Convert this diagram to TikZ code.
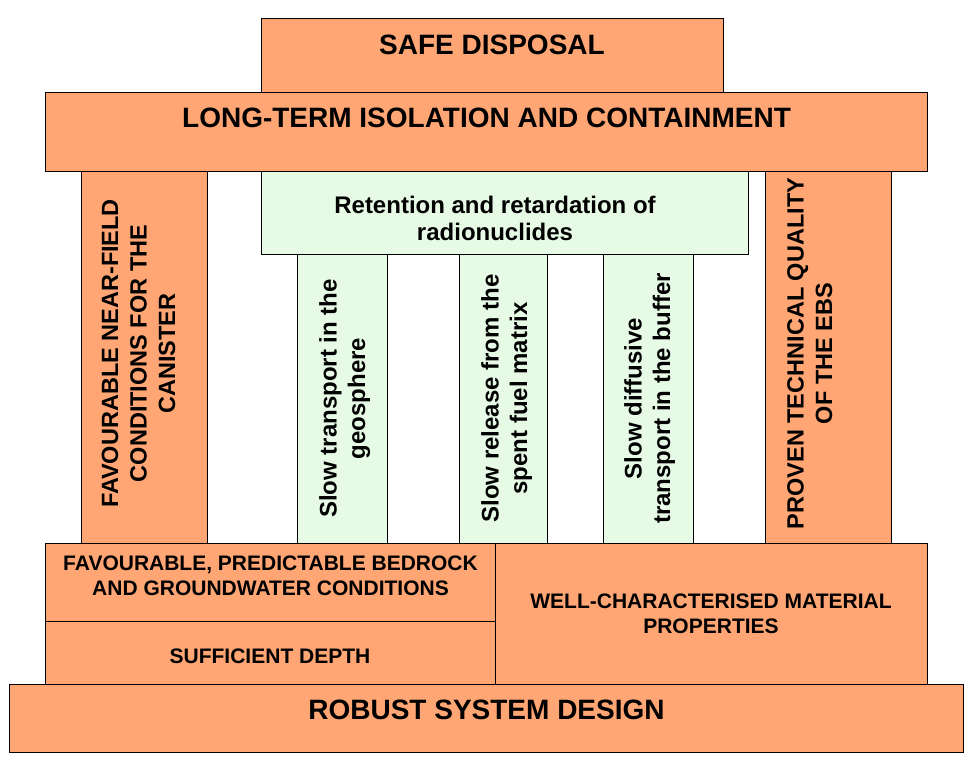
\documentclass[tikz,border=0pt]{standalone}
\usepackage{fontspec}
\setmainfont{Liberation Sans}
\definecolor{orangebox}{RGB}{255,166,116}
\definecolor{greenbox}{RGB}{230,250,230}
\begin{document}
\begin{tikzpicture}[x=1pt,y=-1pt,
  box/.style={draw=black, line width=1pt, rectangle, inner sep=0pt, outer sep=0pt, anchor=north west},
  obox/.style={box, fill=orangebox},
  gbox/.style={box, fill=greenbox},
  txt/.style={anchor=base, inner sep=0pt, align=center, font=\bfseries},
  bigtxt/.style={txt, font=\fontsize{28}{32}\selectfont\bfseries},
  coltxt/.style={txt, rotate=90, font=\fontsize{23.5}{28.5}\selectfont\bfseries},
  gtxt/.style={txt, rotate=90, font=\fontsize{24}{28.5}\selectfont\bfseries},
  smalltxt/.style={txt, font=\fontsize{21}{24.7}\selectfont\bfseries}
]
\useasboundingbox (0,0) rectangle (973,760);
% boxes
\node[obox, minimum width=462pt, minimum height=73pt] (safe) at (261,19) {};
\node[obox, minimum width=882pt, minimum height=79pt] (long) at (45,92) {};
\node[obox, minimum width=126pt, minimum height=372pt] (leftcol) at (81,171) {};
\node[gbox, minimum width=487pt, minimum height=83pt] (ret) at (261,171) {};
\node[gbox, minimum width=90pt, minimum height=289pt] (g1) at (297,254) {};
\node[gbox, minimum width=88pt, minimum height=289pt] (g2) at (459,254) {};
\node[gbox, minimum width=90pt, minimum height=289pt] (g3) at (603,254) {};
\node[obox, minimum width=126pt, minimum height=372pt] (rightcol) at (765,171) {};
\node[obox, minimum width=450pt, minimum height=78pt] (bed) at (45,543) {};
\node[obox, minimum width=450pt, minimum height=63pt] (depth) at (45,621) {};
\node[obox, minimum width=432pt, minimum height=141pt] (mat) at (495,543) {};
\node[obox, minimum width=954pt, minimum height=68pt] (robust) at (9,684) {};
% texts (base anchor = baseline of the last line)
\node[bigtxt] (safeT) at (492,55) {SAFE DISPOSAL};
\node[bigtxt] (longT) at (486.5,127) {LONG-TERM ISOLATION AND CONTAINMENT};
\node[bigtxt] (robustT) at (486.5,719) {ROBUST SYSTEM DESIGN};
\node[txt, font=\fontsize{24}{27.5}\selectfont\bfseries] (retT) at (495,240.5) {Retention and retardation of\\radionuclides};
\node[coltxt] (leftT) at (175,353.5) {FAVOURABLE NEAR-FIELD\\CONDITIONS FOR THE\\CANISTER};
\node[coltxt] (rightT) at (832,353.5) {PROVEN TECHNICAL QUALITY\\OF THE EBS};
\node[gtxt] (g1T) at (365,398.5) {Slow transport in the\\geosphere};
\node[gtxt] (g2T) at (527,398.5) {Slow release from the\\spent fuel matrix};
\node[gtxt] (g3T) at (670,398.5) {Slow diffusive\\transport in the buffer};
\node[smalltxt] (bedT) at (270.5,595.5) {FAVOURABLE, PREDICTABLE BEDROCK\\AND GROUNDWATER CONDITIONS};
\node[smalltxt] (depthT) at (270,663) {SUFFICIENT DEPTH};
\node[smalltxt] (matT) at (711,633) {WELL-CHARACTERISED MATERIAL\\PROPERTIES};
\end{tikzpicture}
\end{document}
